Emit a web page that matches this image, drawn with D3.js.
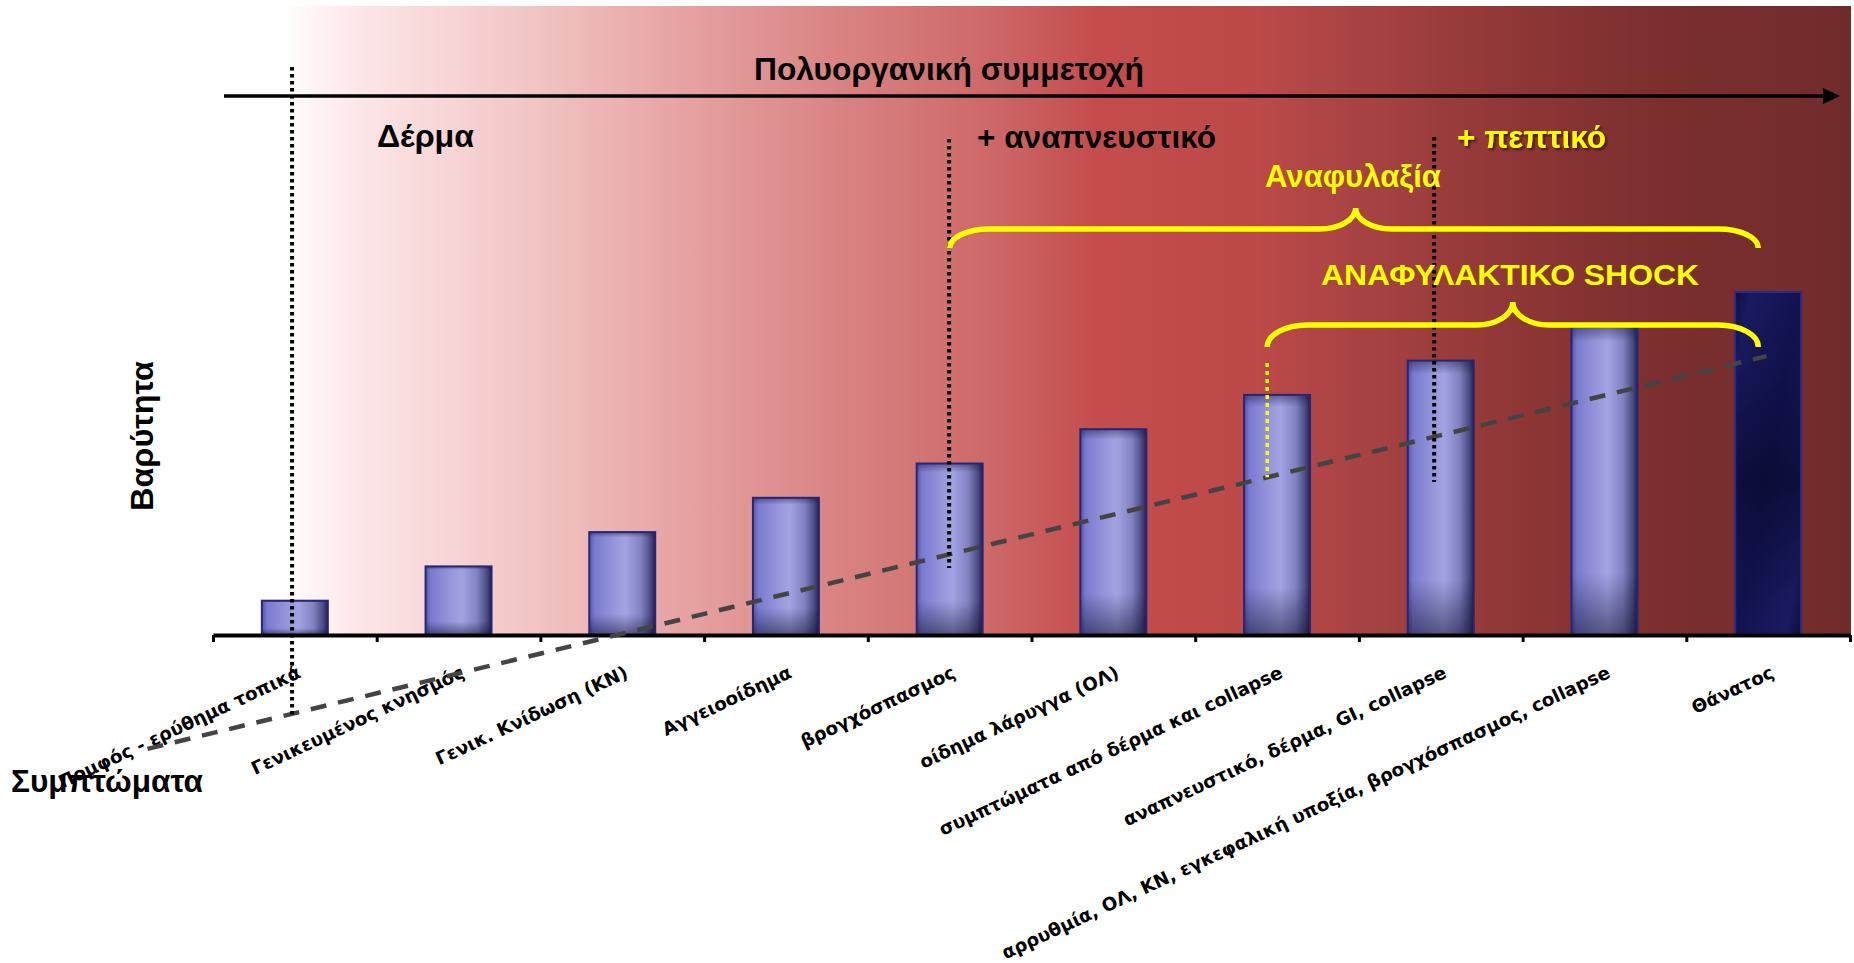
<!DOCTYPE html>
<html><head><meta charset="utf-8">
<script src="https://cdn.jsdelivr.net/npm/d3@7"></script>
<style>html,body{margin:0;padding:0;background:#fff;overflow:hidden}</style>
</head><body>
<svg id="chart" width="1854" height="963"></svg>
<script>
// ---------- data ----------
const categories = [
  "Πομφός - ερύθημα τοπικά",
  "Γενικευμένος κνησμός",
  "Γενικ. Κνίδωση (ΚΝ)",
  "Αγγειοοίδημα",
  "βρογχόσπασμος",
  "οίδημα λάρυγγα (ΟΛ)",
  "συμπτώματα από δέρμα και collapse",
  "αναπνευστικό, δέρμα, GI, collapse",
  "αρρυθμία, ΟΛ, ΚΝ, εγκεφαλική υποξία, βρογχόσπασμος, collapse",
  "Θάνατος"
];
const severity = [1, 2, 3, 4, 5, 6, 7, 8, 9, 10];
const fatal = [false, false, false, false, false, false, false, false, false, true];
const topTitle = "Πολυοργανική συμμετοχή";
const yTitle = "Βαρύτητα";
const xTitle = "Συμπτώματα";
const stageTitles = ["Δέρμα", "+ αναπνευστικό", "+ πεπτικό"];
const anaphylaxisTitle = "Αναφυλαξία";
const shockTitle = "ΑΝΑΦΥΛΑΚΤΙΚΟ SHOCK";
// annotation geometry in data units (category index, severity)
const trendLine = [[-0.40, -3.32], [9.49, 8.13]];
const stageDividers = [[0.483, -2.33, 16.56], [4.497, 1.95, 14.46], [7.46, 4.46, 14.52]];
const shockDivider = [6.44, 4.6, 7.93];
const braceSpans = [
  {x0: 4.5, xm: 6.98, x1: 9.44, ye: 11.28, yh: 11.84, yp: 12.45},
  {x0: 6.44, xm: 7.94, x1: 9.44, ye: 8.40, yh: 9.04, yp: 9.71}
];

// ---------- layout ----------
const svg = d3.select("#chart");
const L = 213, R = 1850, T = 6, B = 635;
const x = d3.scaleBand().domain(categories).range([L, R]).paddingInner(0.597).paddingOuter(0.2985);
const xi = d3.scaleLinear().domain([0, 10]).range([L, R]);
const y = d3.scaleLinear().domain([0, 10]).range([B, 292]);

const defs = svg.append("defs");
const bg = defs.append("linearGradient").attr("id", "bgGrad")
  .attr("gradientUnits", "userSpaceOnUse").attr("x1", L).attr("x2", R + 1).attr("y1", 0).attr("y2", 0);
[[0, "#ffffff"], [0.04, "#ffffff"], [0.089, "#fde6e8"], [0.185, "#f3c8c8"], [0.282, "#e7a4a4"],
 [0.378, "#da8484"], [0.475, "#cd6868"], [0.54, "#c44c4c"], [0.636, "#bd4949"], [0.70, "#a84343"],
 [0.797, "#8f3636"], [0.881, "#7b2f2f"], [1, "#722b2b"]]
  .forEach(([o, c]) => bg.append("stop").attr("offset", o).attr("stop-color", c));

const bh = defs.append("linearGradient").attr("id", "barH").attr("x1", 0).attr("x2", 1).attr("y1", 0).attr("y2", 0);
[[0, "#5656a4"], [0.08, "#7a7acf"], [0.35, "#9393da"], [0.55, "#a3a3e3"], [0.78, "#8282c2"], [0.93, "#4a4a84"], [1, "#22224c"]]
  .forEach(([o, c]) => bh.append("stop").attr("offset", o).attr("stop-color", c));
const bv = defs.append("linearGradient").attr("id", "barV").attr("x1", 0).attr("x2", 0).attr("y1", 0).attr("y2", 1);
[[0, "rgba(20,20,60,0.45)"], [0.05, "rgba(20,20,60,0)"], [0.8, "rgba(10,10,40,0)"], [1, "rgba(10,10,40,0.5)"]]
  .forEach(([o, c]) => bv.append("stop").attr("offset", o).attr("stop-color", c));
const dh = defs.append("linearGradient").attr("id", "darkH").attr("x1", 0).attr("x2", 1).attr("y1", 0).attr("y2", 1);
[[0, "#0e0e3e"], [0.12, "#1a1a62"], [0.5, "#121250"], [0.88, "#1a1a62"], [1, "#0e0e3e"]]
  .forEach(([o, c]) => dh.append("stop").attr("offset", o).attr("stop-color", c));
const dv = defs.append("linearGradient").attr("id", "darkV").attr("x1", 0).attr("x2", 0).attr("y1", 0).attr("y2", 1);
[[0, "rgba(8,8,40,0)"], [0.2, "rgba(8,8,40,0.1)"], [0.55, "rgba(8,8,40,0.6)"], [0.9, "rgba(8,8,40,0.05)"], [1, "rgba(8,8,40,0)"]]
  .forEach(([o, c]) => dv.append("stop").attr("offset", o).attr("stop-color", c));
const sh = defs.append("filter").attr("id", "shadow").attr("x", "-10%").attr("y", "-30%").attr("width", "130%").attr("height", "170%");
sh.append("feDropShadow").attr("dx", 2).attr("dy", 2).attr("stdDeviation", 1.2).attr("flood-color", "#3a0f0f").attr("flood-opacity", 0.85);

// background
svg.append("rect").attr("x", L).attr("y", T).attr("width", R - L + 1).attr("height", B - T)
  .attr("fill", "url(#bgGrad)");

// bars
const data = categories.map((c, i) => ({c, v: severity[i], fatal: fatal[i]}));
const bars = svg.append("g");
bars.selectAll("rect.base").data(data).join("rect").attr("class", "base")
  .attr("x", d => x(d.c)).attr("width", x.bandwidth())
  .attr("y", d => y(d.v)).attr("height", d => y(0) - y(d.v))
  .attr("fill", d => d.fatal ? "url(#darkH)" : "url(#barH)");
bars.selectAll("rect.shade").data(data).join("rect").attr("class", "shade")
  .attr("x", d => x(d.c)).attr("width", x.bandwidth())
  .attr("y", d => y(d.v)).attr("height", d => y(0) - y(d.v))
  .attr("fill", d => d.fatal ? "url(#darkV)" : "url(#barV)")
  .attr("stroke", d => d.fatal ? "#2a2a86" : "#262678").attr("stroke-width", 2);

// x axis (boundary ticks)
const axisG = svg.append("g").attr("transform", `translate(0,${B})`)
  .call(d3.axisBottom(xi).tickValues(d3.range(0, 11)).tickSize(7).tickSizeOuter(0).tickFormat(""));
axisG.select(".domain").attr("stroke", "#000").attr("stroke-width", 4);
axisG.selectAll(".tick line").attr("stroke", "#000").attr("stroke-width", 3);

// category labels
const labG = svg.append("g").attr("transform", `translate(0,${B})`)
  .call(d3.axisBottom(x).tickSize(0));
labG.select(".domain").remove();
labG.selectAll(".tick text")
  .attr("x", 0).attr("y", 0).attr("dy", 0)
  .attr("transform", "translate(7,42) rotate(-25)")
  .style("text-anchor", "end")
  .attr("fill", "#000")
  .attr("font-family", "'DejaVu Sans', Verdana, sans-serif")
  .attr("font-weight", "bold")
  .attr("font-size", 18.3);

// trend (dashed) line
svg.append("path")
  .attr("d", d3.line().x(d => xi(d[0])).y(d => y(d[1]))(trendLine))
  .attr("fill", "none").attr("stroke", "#444").attr("stroke-width", 4.5)
  .attr("stroke-dasharray", "16,12");

// dotted dividers
svg.append("g").selectAll("line").data(stageDividers).join("line")
  .attr("x1", d => xi(d[0])).attr("x2", d => xi(d[0]))
  .attr("y1", d => y(d[2])).attr("y2", d => y(d[1]))
  .attr("stroke", "#000").attr("stroke-width", 4).attr("stroke-dasharray", "3.5,3.5");
svg.append("line")
  .attr("x1", xi(shockDivider[0])).attr("x2", xi(shockDivider[0]))
  .attr("y1", y(shockDivider[2])).attr("y2", y(shockDivider[1]))
  .attr("stroke", "#ffff00").attr("stroke-width", 3.5).attr("stroke-dasharray", "4,4");

// arrow
const arrowY = 96;
svg.append("line").attr("x1", 224).attr("x2", 1826).attr("y1", arrowY).attr("y2", arrowY)
  .attr("stroke", "#000").attr("stroke-width", 3.5);
svg.append("path").attr("d", `M1823,${arrowY - 8}L1840,${arrowY}L1823,${arrowY + 8}Z`).attr("fill", "#000");

// braces
function bracePath(b) {
  const x0 = xi(b.x0), x1 = xi(b.x1), xm = xi(b.xm);
  const ye = y(b.ye), yh = y(b.yh), yp = y(b.yp);
  const re = 40, ry = ye - yh, rm = 36, rmy = yh - yp;
  return `M${x0},${ye} A${re},${ry} 0 0 1 ${x0 + re},${yh} L${xm - rm},${yh} ` +
    `A${rm},${rmy} 0 0 0 ${xm},${yp} A${rm},${rmy} 0 0 0 ${xm + rm},${yh} ` +
    `L${x1 - re},${yh} A${re},${ry} 0 0 1 ${x1},${ye}`;
}
svg.append("g").selectAll("path").data(braceSpans).join("path")
  .attr("d", bracePath).attr("fill", "none").attr("stroke", "#ffff00")
  .attr("stroke-width", 5.5).attr("stroke-linecap", "butt");

// texts
const F = "'Liberation Sans', Arial, sans-serif";
function label(txt, xx, yy, size, color, len, extra) {
  const t = svg.append("text").attr("x", xx).attr("y", yy).text(txt)
    .attr("font-family", F).attr("font-weight", "bold").attr("font-size", size).attr("fill", color);
  if (len) t.attr("textLength", len).attr("lengthAdjust", "spacingAndGlyphs");
  if (extra) extra(t);
  return t;
}
label(topTitle, 754, 80, 32, "#000", 390);
label(stageTitles[0], 377, 147, 32, "#000", 97);
label(stageTitles[1], 977, 148, 32, "#000", 239);
label(stageTitles[2], 1457, 148, 32, "#ffff00", 149, t => t.attr("filter", "url(#shadow)"));
label(anaphylaxisTitle, 1265, 187, 31, "#ffff00", 176);
label(shockTitle, 1321, 285, 30, "#ffff00", 378);
label(xTitle, 11, 792, 31, "#000", 192);
label(yTitle, 0, 0, 31, "#000", 150, t => t.attr("text-anchor", "middle").attr("transform", "translate(153,436) rotate(-90)"));
</script>
</body></html>
